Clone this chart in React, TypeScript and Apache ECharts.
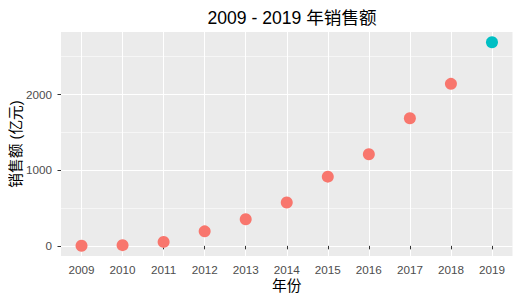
import React, { useEffect, useRef } from "react";
import * as echarts from "echarts";

const years = [2009, 2010, 2011, 2012, 2013, 2014, 2015, 2016, 2017, 2018, 2019];
const sales = [0.5, 9.36, 52, 191, 350, 571, 912, 1207, 1682, 2135, 2684];
const groups = [0, 0, 0, 0, 0, 0, 0, 0, 0, 0, 1];
const groupColors = ["#F8766D", "#00BFC4"];
const yTicks = [0, 1000, 2000];
const xTicks = years;

const FONT = "'Liberation Sans', Arial, 'Noto Sans CJK SC', sans-serif";

export default function App() {
  const ref = useRef<HTMLDivElement>(null);
  useEffect(() => {
    if (!ref.current) return;
    const chart = echarts.init(ref.current, null, { renderer: "svg" });
    const ymax = Math.max(...sales);
    const ymin = Math.min(...sales);
    const pad = (ymax - ymin) * 0.05;
    chart.setOption({
      animation: false,
      backgroundColor: "#ffffff",
      title: {
        text: "2009 - 2019 年销售额",
        left: 287,
        textAlign: "center",
        top: 4,
        textStyle: { fontFamily: FONT, fontSize: 17.6, fontWeight: "normal", color: "#000000" },
      },
      grid: {
        left: 61,
        right: 8.5,
        top: 32,
        bottom: 45,
        show: true,
        backgroundColor: "#EBEBEB",
        borderWidth: 0,
        containLabel: false,
        outerBoundsMode: "none",
      },
      xAxis: {
        type: "value",
        min: years[0] - 0.5,
        max: years[years.length - 1] + 0.5,
        interval: 1,
        name: "年份",
        nameLocation: "middle",
        nameGap: 23,
        nameMoveOverlap: false,
        nameTextStyle: { fontFamily: FONT, fontSize: 14.7, color: "#000000" },
        axisLine: { show: false },
        axisTick: {
          show: true,
          customValues: xTicks,
          length: 3.5,
          lineStyle: { color: "#333333", width: 1 },
        },
        axisLabel: {
          customValues: xTicks,
          margin: 7.5,
          fontFamily: FONT,
          fontSize: 11.7,
          color: "#4D4D4D",
          formatter: (v: number) => (Number.isInteger(v) ? String(v) : ""),
        },
        splitLine: { show: true, lineStyle: { color: "#ffffff", width: 0.55 } },
        minorTick: { show: false, splitNumber: 2 },
        minorSplitLine: { show: true, lineStyle: { color: "#ffffff", width: 1.1 } },
      },
      yAxis: {
        type: "value",
        min: ymin - pad,
        max: ymax + pad,
        minInterval: 1000,
        maxInterval: 1000,
        name: "销售额 (亿元)",
        nameLocation: "middle",
        nameGap: 38,
        nameMoveOverlap: false,
        nameTextStyle: { fontFamily: FONT, fontSize: 14.7, color: "#000000" },
        axisLine: { show: false },
        axisTick: {
          show: true,
          customValues: yTicks,
          length: 3.5,
          lineStyle: { color: "#333333", width: 1 },
        },
        axisLabel: {
          customValues: yTicks,
          margin: 9,
          fontFamily: FONT,
          fontSize: 11.7,
          color: "#4D4D4D",
          formatter: (v: number) => (v % 1000 === 0 ? String(v) : ""),
        },
        splitLine: { show: true, lineStyle: { color: "#ffffff", width: 1.1 } },
        minorTick: { show: false, splitNumber: 2 },
        minorSplitLine: { show: true, lineStyle: { color: "#ffffff", width: 0.55 } },
      },
      series: [
        {
          type: "scatter",
          symbol: "circle",
          symbolSize: 12,
          data: years.map((y, i) => ({
            value: [y, sales[i]],
            itemStyle: { color: groupColors[groups[i]], opacity: 1 },
          })),
        },
      ],
    });
    return () => chart.dispose();
  }, []);
  return <div ref={ref} style={{ width: 521, height: 301, margin: -8 }} />;
}
